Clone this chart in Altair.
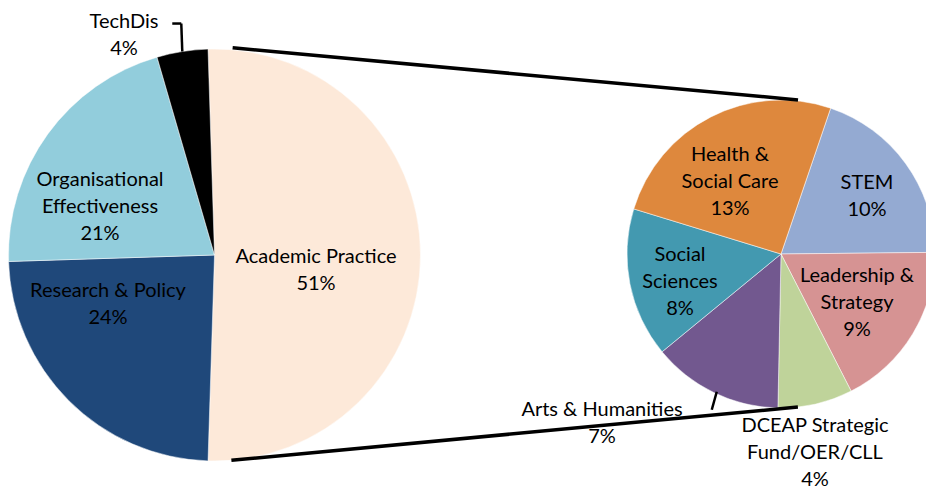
import math
import altair as alt
import pandas as pd

# ---------------- data ----------------
main_categories = ["Academic Practice", "Research & Policy", "Organisational Effectiveness", "TechDis"]
main_labels = ["Academic Practice", "Research & Policy", "Organisational\nEffectiveness", "TechDis"]
main_values = [51, 24, 21, 4]
main_colors = ["#FDE9D9", "#1F487A", "#92CDDC", "#000000"]

sub_categories = ["STEM", "Leadership & Strategy", "DCEAP Strategic Fund/OER/CLL",
                  "Arts & Humanities", "Social Sciences", "Health & Social Care"]
sub_labels = ["STEM", "Leadership &\nStrategy", "DCEAP Strategic\nFund/OER/CLL",
              "Arts & Humanities", "Social\nSciences", "Health &\nSocial Care"]
sub_values = [10, 9, 4, 7, 8, 13]
sub_colors = ["#94AAD2", "#D69393", "#BFD39A", "#72588F", "#4399B0", "#DE883D"]

# ---------------- layout ----------------
W, H = 918, 483
BIG_CX, BIG_CY, BIG_R = 206.5, 247, 206
SUB_CX, SUB_CY, SUB_R = 773, 246, 154
SUB_START_DEG = 18.8
FONT = "Lato"
FS = 20
LH = 27

# label block centres relative to pie centres (pixels)
main_label_off = [(101.5, 15.5), (-106.5, 49.5), (-114.5, -48.5), (-90.5, -219.5)]
sub_label_off = [(86, -58), (76, 49), (34, 199), (-179, 169.5), (-101, 28), (-51, -72)]

main_total = sum(main_values)
sub_total = sum(sub_values)
main_start = math.radians(90 - main_values[0] / main_total * 360 / 2)
sub_start = math.radians(SUB_START_DEG)


def first_line_y(cy, text):
    n = text.count("\n") + 1
    return cy - (n - 1) * LH / 2


main_text = [f"{l}\n{v}%" for l, v in zip(main_labels, main_values)]
sub_text = [f"{l}\n{v}%" for l, v in zip(sub_labels, sub_values)]

main_df = pd.DataFrame({
    "cat": main_categories, "value": main_values, "idx": list(range(len(main_values))),
    "text": main_text,
    "lx": [BIG_CX + o[0] for o in main_label_off],
    "ly": [first_line_y(BIG_CY + o[1], t) for o, t in zip(main_label_off, main_text)],
})
sub_df = pd.DataFrame({
    "cat": sub_categories, "value": sub_values, "idx": list(range(len(sub_values))),
    "text": sub_text,
    "lx": [SUB_CX + o[0] for o in sub_label_off],
    "ly": [first_line_y(SUB_CY + o[1], t) for o, t in zip(sub_label_off, sub_text)],
})

main_pie = alt.Chart(main_df).mark_arc(radius=BIG_R, stroke="white", strokeWidth=0.5).encode(
    theta=alt.Theta("value:Q", stack=True,
                    scale=alt.Scale(domain=[0, main_total], range=[main_start, main_start + 2 * math.pi])),
    color=alt.Color("cat:N", scale=alt.Scale(domain=main_categories, range=main_colors), legend=None),
    order=alt.Order("idx:Q"),
    x=alt.value(BIG_CX), y=alt.value(BIG_CY),
)
sub_pie = alt.Chart(sub_df).mark_arc(radius=SUB_R, stroke="white", strokeWidth=0.5).encode(
    theta=alt.Theta("value:Q", stack=True,
                    scale=alt.Scale(domain=[0, sub_total], range=[sub_start, sub_start + 2 * math.pi])),
    color=alt.Color("cat:N", scale=alt.Scale(domain=sub_categories, range=sub_colors), legend=None),
    order=alt.Order("idx:Q"),
    x=alt.value(SUB_CX), y=alt.value(SUB_CY),
)


def pt(cx, cy, r, deg):
    a = math.radians(deg)
    return cx + r * math.sin(a), cy - r * math.cos(a)


t1 = pt(BIG_CX, BIG_CY, BIG_R + 2, 5)
t2 = pt(SUB_CX, SUB_CY, SUB_R + 1, 6.3)
b1 = pt(BIG_CX, BIG_CY, BIG_R, 175.3)
b2 = pt(SUB_CX, SUB_CY, SUB_R, 173.7)
seg_df = pd.DataFrame({
    "x": [t1[0], b1[0]], "y": [t1[1], b1[1]],
    "x2": [t2[0], b2[0]], "y2": [t2[1], b2[1]],
})
connectors = alt.Chart(seg_df).mark_rule(color="black", strokeWidth=3.5).encode(
    x=alt.X("x:Q", scale=None, axis=None), y=alt.Y("y:Q", scale=None, axis=None),
    x2="x2:Q", y2="y2:Q",
)

# leader lines (TechDis label -> slice, Arts label -> slice)
tp = pt(BIG_CX, BIG_CY, BIG_R, -9)
ap = pt(SUB_CX, SUB_CY, SUB_R - 2, 205)
lead_df = pd.DataFrame({
    "x": [tp[0] - 10, tp[0] - 1, ap[0]],
    "y": [tp[1] - 28, tp[1] - 28, ap[1]],
    "x2": [tp[0] - 1, tp[0], ap[0] - 5],
    "y2": [tp[1] - 28, tp[1], ap[1] + 18],
})
leaders = alt.Chart(lead_df).mark_rule(color="black", strokeWidth=2.5).encode(
    x=alt.X("x:Q", scale=None, axis=None), y=alt.Y("y:Q", scale=None, axis=None),
    x2="x2:Q", y2="y2:Q",
)


def labels(df):
    return alt.Chart(df).mark_text(font=FONT, fontSize=FS, lineBreak="\n", lineHeight=LH,
                                   align="center", baseline="middle", color="#000000").encode(
        x=alt.X("lx:Q", scale=None, axis=None), y=alt.Y("ly:Q", scale=None, axis=None),
        text="text:N",
    )


chart = alt.layer(
    main_pie, sub_pie, connectors, leaders, labels(main_df), labels(sub_df)
).resolve_scale(
    theta="independent", color="independent"
).properties(
    width=W, height=H, padding=0, autosize=alt.AutoSizeParams(type="none")
).configure_view(strokeWidth=0)

chart.save("out.html", embed_options={"renderer": "svg", "actions": False})
